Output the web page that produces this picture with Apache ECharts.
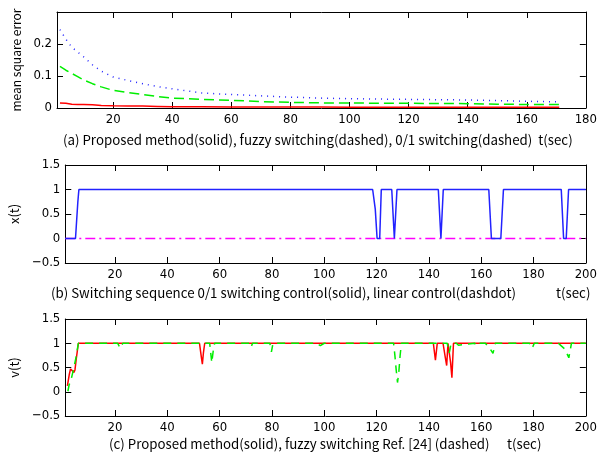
<!DOCTYPE html>
<html>
<head>
    <meta charset="utf-8">
    <title>Switching control</title>
    <script src="https://cdn.jsdelivr.net/npm/echarts@6/dist/echarts.min.js"></script>
</head>
<body style="margin:0">
<div id="main" style="width:600px; height:459px;"></div>
<script type="text/javascript">
    // (a) mean square error
    var mseT     = [2, 4, 6, 8, 10, 13, 16, 20, 25, 30, 35, 40, 50, 60, 70, 80, 90, 100, 110, 120, 130, 140, 150, 160, 171];
    var mseDot   = [0.245, 0.215, 0.19, 0.175, 0.16, 0.135, 0.115, 0.097, 0.086, 0.076, 0.067, 0.06, 0.047, 0.042, 0.038, 0.034, 0.031, 0.029, 0.028, 0.027, 0.026, 0.025, 0.023, 0.021, 0.019];
    var mseDash  = [0.13, 0.118, 0.108, 0.098, 0.088, 0.076, 0.066, 0.055, 0.048, 0.042, 0.036, 0.031, 0.027, 0.024, 0.02, 0.0175, 0.016, 0.0156, 0.015, 0.0146, 0.0142, 0.0135, 0.012, 0.011, 0.011];
    var mseSolid = [0.016, 0.015, 0.012, 0.011, 0.011, 0.01, 0.008, 0.007, 0.006, 0.006, 0.005, 0.004, 0.004, 0.003, 0.003, 0.003, 0.003, 0.002, 0.002, 0.002, 0.002, 0.002, 0.002, 0.002, 0.002];

    // (b) switching sequence
    var swT   = [1, 4.9, 5.2, 5.5, 5.8, 6.2, 118.5, 119.5, 120.2, 121.2, 121.8, 125.8, 126.8, 127.8, 143.6, 144.6, 145.5, 162.9, 163.9, 167.5, 168.5, 190.6, 191.5, 192.5, 193.4, 200];
    var swVal = [0, 0, 0.25, 0.25, 0.75, 1, 1, 0.6, 0, 0, 1, 1, 0, 1, 1, 0, 1, 1, 0, 0, 1, 1, 0, 0, 1, 1];
    var linT  = [1, 200];
    var linVal = [0, 0];

    // (c) v(t)
    var propT = [1.8, 2.5, 3, 3.5, 4.3, 4.7, 5.2, 6, 52.3, 53, 53.4, 53.8, 54.3, 141.7, 142.5, 143.2, 145.4, 146.3, 146.8, 147.3, 147.7, 148.3, 148.8, 149.4, 200];
    var propV = [0.12, 0.35, 0.47, 0.5, 0.4, 0.45, 0.68, 1, 1, 0.72, 0.57, 0.8, 1, 1, 0.65, 1, 1, 0.7, 0.54, 1, 1, 0.6, 0.29, 1, 1];
    var fuzT  = [2, 2.5, 3, 3.5, 4, 4.5, 5, 6, 21, 22, 23, 56.2, 57, 57.5, 58.1, 71.5, 72, 72.6, 79.2, 79.8, 80.4, 97, 98.5, 100, 126.5, 127, 127.5, 128, 128.5, 129, 129.5, 147, 147.8, 148.5, 150.5, 151.3, 152, 157.5, 158.2, 159, 161.6, 163.5, 164.5, 165.4, 178.4, 179.5, 180.3, 189.5, 190.5, 192, 193.5, 194, 194.5, 200];
    var fuzV  = [0.01, 0.15, 0.2, 0.24, 0.43, 0.42, 0.68, 1, 1, 0.9, 1, 1, 0.6, 0.82, 1, 1, 0.92, 1, 1, 0.82, 1, 1, 0.95, 1, 1, 0.75, 0.45, 0.19, 0.4, 0.75, 1, 1, 0.8, 1, 1, 0.96, 1, 1, 0.95, 1, 1, 0.88, 0.79, 1, 1, 0.9, 1, 1, 0.95, 0.88, 0.7, 0.85, 1, 1];

    var ticksA = [20, 40, 60, 80, 100, 120, 140, 160, 180];
    var ticksBC = [20, 40, 60, 80, 100, 120, 140, 160, 180, 200];
    var ticksYA = [0, 0.1, 0.2];
    var ticksYBC = [-0.5, 0, 0.5, 1, 1.5];

    function zip(t, v) {
        return t.map(function (x, i) { return [x, v[i]]; });
    }

    var numFont = "'Liberation Sans Narrow', 'DejaVu Sans Condensed', sans-serif";
    var capFont = "'Noto Sans CJK JP', sans-serif";

    function xAxes(idx, max, ticks) {
        var base = {
            type: 'value', gridIndex: idx, min: 1, max: max,
            splitLine: { show: false },
            axisLine: { onZero: false, lineStyle: { color: '#000', width: 1 } },
            axisTick: { show: true, inside: true, length: 6, customValues: ticks, lineStyle: { color: '#000', width: 1 } }
        };
        var bottom = Object.assign({}, base, {
            position: 'bottom',
            axisLabel: { customValues: ticks, color: '#000', fontFamily: numFont, fontSize: 13, margin: 5 }
        });
        var top = Object.assign({}, base, { position: 'top', axisLabel: { show: false } });
        return [bottom, top];
    }

    function yAxes(idx, min, max, ticks, name, gap, nameSize) {
        var base = {
            type: 'value', gridIndex: idx, min: min, max: max,
            splitLine: { show: false },
            axisLine: { show: true, onZero: false, lineStyle: { color: '#000', width: 1 } },
            axisTick: { show: true, inside: true, length: 6, customValues: ticks, lineStyle: { color: '#000', width: 1 } }
        };
        var left = Object.assign({}, base, {
            position: 'left',
            name: name, nameLocation: 'middle', nameGap: gap,
            nameTextStyle: { color: '#000', fontFamily: capFont, fontSize: nameSize },
            axisLabel: {
                customValues: ticks, color: '#000', fontFamily: numFont, fontSize: 13, margin: 5,
                formatter: function (v) { return v < 0 ? '\u2212' + (-v) : String(v); }
            }
        });
        var right = Object.assign({}, base, { position: 'right', axisLabel: { show: false } });
        return [left, right];
    }

    var xs = [].concat(xAxes(0, 180, ticksA), xAxes(1, 200, ticksBC), xAxes(2, 200, ticksBC));
    var ys = [].concat(
        yAxes(0, 0, 0.3, ticksYA, 'mean square error', 28, 12),
        yAxes(1, -0.5, 1.5, ticksYBC, 'x(t)', 34, 13),
        yAxes(2, -0.5, 1.5, ticksYBC, 'v(t)', 34, 13)
    );

    function line(data, xi, yi, color, type, width) {
        return {
            type: 'line', data: data, xAxisIndex: xi, yAxisIndex: yi,
            showSymbol: false, symbol: 'none', animation: false,
            lineStyle: { color: color, width: width || 1.5, type: type }
        };
    }

    var capStyle = { color: '#000', fontFamily: capFont, fontSize: 13.3, fontWeight: 'normal' };

    var myChart = echarts.init(document.getElementById('main'));
    var option = {
        backgroundColor: '#fff',
        animation: false,
        grid: [
            { left: 57, right: 11, top: 12, height: 96 },
            { left: 57, right: 11, top: 165, height: 98 },
            { left: 57, right: 11, top: 319, height: 97 }
        ],
        title: [
            { text: '(a) Proposed method(solid), fuzzy switching(dashed), 0/1 switching(dashed)  t(sec)', left: 58, top: 128, textStyle: capStyle },
            { text: '(b) Switching sequence 0/1 switching control(solid), linear control(dashdot)', left: 46, top: 281, textStyle: capStyle },
            { text: 't(sec)', left: 551, top: 281, textStyle: capStyle },
            { text: '(c) Proposed method(solid), fuzzy switching Ref. [24] (dashed)', left: 104, top: 432, textStyle: capStyle },
            { text: 't(sec)', left: 502, top: 432, textStyle: capStyle }
        ],
        xAxis: xs,
        yAxis: ys,
        series: [
            line(zip(mseT, mseDot), 0, 0, '#2222ff', [1, 5], 1.5),
            line(zip(mseT, mseDash), 0, 0, '#00ee00', [10, 5], 1.5),
            line(zip(mseT, mseSolid), 0, 0, '#ff0000', 'solid', 1.5),
            line(zip(linT, linVal), 2, 2, '#ff00ff', [10, 4, 2, 4], 1.5),
            line(zip(swT, swVal), 2, 2, '#2222ff', 'solid', 1.5),
            line(zip(propT, propV), 4, 4, '#ff0000', 'solid', 1.5),
            line(zip(fuzT, fuzV), 4, 4, '#00ee00', [8, 6], 1.5)
        ]
    };
    myChart.setOption(option);
</script>
</body>
</html>
